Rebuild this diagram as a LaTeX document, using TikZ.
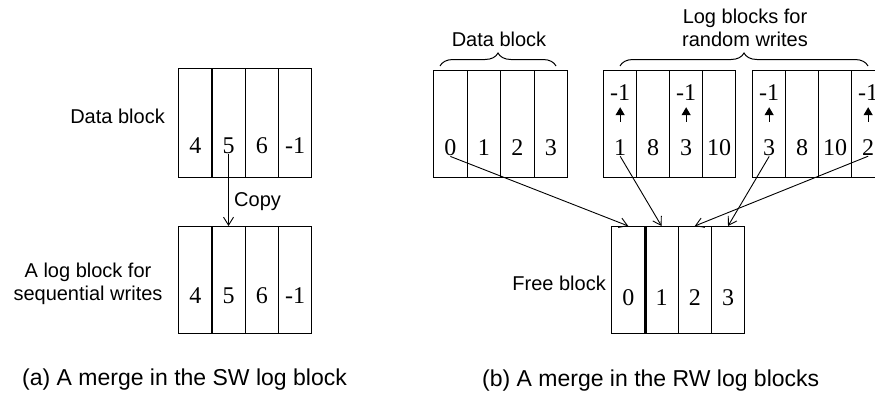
\documentclass[tikz,border=0pt]{standalone}
\usepackage{fontspec}
\setmainfont{Liberation Sans}
\newfontfamily\numfont{Liberation Serif}
\usetikzlibrary{arrows.meta,decorations.pathreplacing}

\newcommand{\mkblock}[5]{% name, x, y, cell width, height
  \foreach \i in {1,...,4}{
    \node[cell, minimum width=#4, minimum height=#5] (#1\i) at ({#2+(\i-1)*#4}, #3) {};
  }}

\begin{document}
\begin{tikzpicture}[x=1pt,y=-1pt,
  cell/.style={draw, line width=1.3pt, inner sep=0pt, anchor=north west},
  num/.style={font=\fontsize{24}{27}\selectfont\numfont, inner sep=1pt, anchor=base},
  lbl/.style={font=\fontsize{20}{23}\selectfont, inner sep=0pt},
  captxt/.style={font=\fontsize{23}{27}\selectfont, inner sep=0pt, anchor=base west},
  arr/.style={line width=0.9pt, -{Straight Barb[length=8pt,width=10pt]}},
  up/.style={line width=1.3pt, -{Triangle[length=8pt,width=9pt]}},
  brc/.style={decorate, decoration={brace, amplitude=13pt}, line width=1pt}]

\useasboundingbox (0,0) rectangle (875,397);

% ---------- (a) ----------
\mkblock{U}{178}{68}{33.25}{109}
\mkblock{S}{178}{226}{33.25}{107}

\foreach \i/\t in {1/4,2/5,3/6,4/-1}{
  \node[num] (Un\i) at (U\i.center |- 0,153) {\t};
  \node[num] (Sn\i) at (S\i.center |- 0,303) {\t};
}

\draw[arr] (Un2.south) -- (S2.north);
\node[lbl, anchor=base west] (copy) at (234,206) {Copy};

\node[lbl, anchor=base east] (ulbl) at (165,123) {Data block};
\node[lbl, anchor=base] (slbl1) at (88,277) {A log block for};
\node[lbl, anchor=base] (slbl2) at (88,300) {sequential writes};

\node[captxt] (capa) at (22,385) {(a) A merge in the SW log block};

% ---------- (b) ----------
\mkblock{D}{433}{70}{33.5}{107}
\mkblock{L}{603}{70}{33}{107}
\mkblock{M}{752}{70}{33}{107}
\mkblock{F}{611}{226}{33.25}{107}
\draw[line width=1.9pt] (F1.north east) -- (F1.south east);

\foreach \i/\t in {1/0,2/1,3/2,4/3}{
  \node[num] (Dn\i) at (D\i.center |- 0,155) {\t};
  \node[num] (Fn\i) at (F\i.center |- 0,305) {\t};
}
\foreach \i/\t in {1/1,2/8,3/3,4/10}{
  \node[num] (Ln\i) at (L\i.center |- 0,155) {\t};
}
\foreach \i/\t in {1/3,2/8,3/10,4/2}{
  \node[num] (Mn\i) at (M\i.center |- 0,155) {\t};
}

% -1 markers with small up arrows
\node[num] (Lm1) at (L1.center |- 0,100) {-1};
\node[num] (Lm3) at (L3.center |- 0,100) {-1};
\node[num] (Mm1) at (M1.center |- 0,100) {-1};
\node[num] (Mm4) at (M4.center |- 0,100) {-1};
\draw[up, shorten <=16pt, shorten >=6pt] (Ln1.north) -- (Lm1.south);
\draw[up, shorten <=16pt, shorten >=6pt] (Ln3.north) -- (Lm3.south);
\draw[up, shorten <=16pt, shorten >=6pt] (Mn1.north) -- (Mm1.south);
\draw[up, shorten <=16pt, shorten >=6pt] (Mn4.north) -- (Mm4.south);

% merge arrows
\draw[arr] (Dn1.south) -- (F1.north);
\draw[arr] (Ln1.south) -- (F2.north);
\draw[arr] (Mn4.south) -- (F3.north);
\draw[arr] (Mn1.south) -- (F4.north);

% braces and labels
\coordinate (db1) at (440,66);
\coordinate (db2) at (556,66);
\coordinate (lb1) at (620,66);
\coordinate (lb2) at (868,66);
\draw[brc] (db1) -- (db2);
\draw[brc] (lb1) -- (lb2);
\node[lbl, anchor=base] (dlbl) at (499,46) {Data block};
\node[lbl, anchor=base] (llbl1) at (745,23) {Log blocks for};
\node[lbl, anchor=base] (llbl2) at (745,46) {random writes};

\node[lbl, anchor=base east] (flbl) at (606,290) {Free block};

\node[captxt] (capb) at (482,386) {(b) A merge in the RW log blocks};
\end{tikzpicture}
\end{document}
